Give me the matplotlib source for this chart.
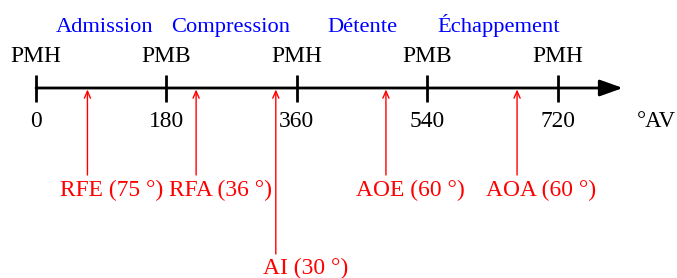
import matplotlib
matplotlib.use("Agg")
import matplotlib.pyplot as plt

# ---- data ----
tick_degrees = [0, 180, 360, 540, 720]
tick_labels = ["0", "180", "360", "540", "720"]
dead_centers = ["PMH", "PMB", "PMH", "PMB", "PMH"]
phase_names = ["Admission", "Compression", "Détente", "Échappement"]
phase_centers = [94, 269, 450, 638]
event_names = ["RFE (75 °)", "RFA (36 °)", "AI (30 °)", "AOE (60 °)", "AOA (60 °)"]
event_degrees = [71, 221, 331, 483, 664]
event_long = [False, False, True, False, False]
unit_label = "°AV"

plt.rcParams['font.family'] = ['Liberation Serif', 'DejaVu Serif']

fig = plt.figure(figsize=(6.77, 2.78), dpi=100)
ax = fig.add_axes([0, 0, 1, 1])
px_per_deg = 0.7245
x0 = 36
ax.set_xlim(-x0 / px_per_deg, (677 - x0) / px_per_deg)
ax.set_ylim(278, 0)
ax.axis('off')

axis_y = 88
fs = 16.9

# main axis with arrow
ax.annotate('', xy=(810, axis_y), xytext=(0, axis_y),
            arrowprops=dict(arrowstyle='-|>,head_length=1.4,head_width=0.5',
                            lw=2, color='black', shrinkA=0, shrinkB=0))

# ticks
ax.vlines(tick_degrees, 75, 102, colors='black', lw=2)

for d, lab, dc in zip(tick_degrees, tick_labels, dead_centers):
    ax.text(d, 127, lab, ha='center', va='baseline', fontsize=fs, color='black')
    ax.text(d, 61.5, dc, ha='center', va='baseline', fontsize=fs, color='black')

for c, name in zip(phase_centers, phase_names):
    ax.text(c, 32, name, ha='center', va='baseline', fontsize=fs - 0.7, color='blue')

ax.text(676 / px_per_deg - x0 / px_per_deg, 127, unit_label, ha='right', va='baseline',
        fontsize=fs - 0.5, color='black')

for name, d, lng in zip(event_names, event_degrees, event_long):
    y_start = 254 if lng else 175
    ax.annotate('', xy=(d, 89.5), xytext=(d, y_start),
                arrowprops=dict(arrowstyle='->,head_length=0.5,head_width=0.22',
                                lw=1, color='red', shrinkA=0, shrinkB=0))
    yb = 274 if lng else 196.5
    dx = 30 if lng else 24
    ax.text(d + dx / px_per_deg, yb, name, ha='center', va='baseline',
            fontsize=fs, color='red')

fig.savefig('out.png', dpi=100)
